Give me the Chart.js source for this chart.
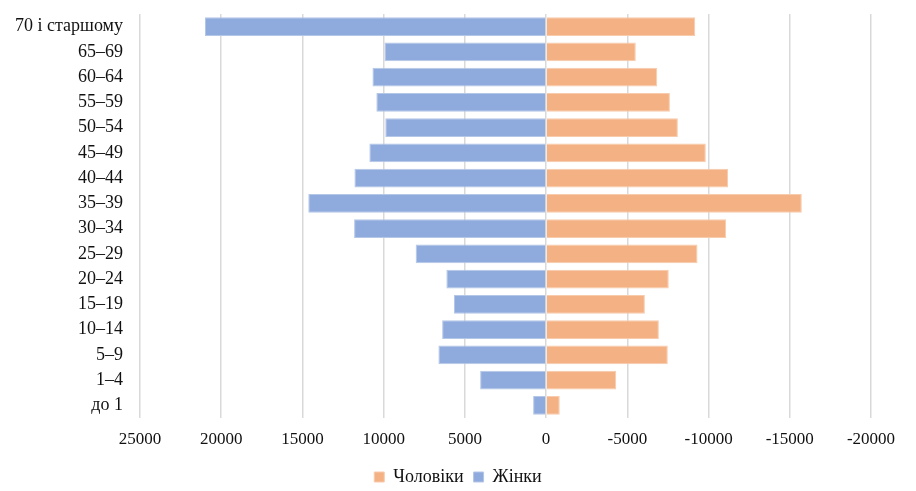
<!DOCTYPE html>
<html>
<head>
<meta charset="utf-8">
<script src="https://cdn.jsdelivr.net/npm/chart.js@4"></script>
<style>
  html, body { margin: 0; padding: 0; background: #fff; }
  #wrap { width: 916px; height: 491px; }
</style>
</head>
<body>
<div id="wrap"><canvas id="chart" width="916" height="491"></canvas></div>
<script>
// Вікові групи, зверху вниз
const AGE_GROUPS = ["70 і старшому", "65–69", "60–64", "55–59", "50–54", "45–49", "40–44",
  "35–39", "30–34", "25–29", "20–24", "15–19", "10–14", "5–9", "1–4", "до 1"];

// Чоловіки (від'ємні, праворуч)
const MEN = [-9180, -5520, -6840, -7620, -8110, -9830, -11200,
  -15740, -11080, -9320, -7550, -6080, -6940, -7490, -4310, -840];

// Жінки (додатні, ліворуч)
const WOMEN = [21000, 9950, 10690, 10450, 9900, 10880, 11800,
  14640, 11820, 8030, 6140, 5670, 6400, 6630, 4060, 800];

const X_MIN = -20000, X_MAX = 25000, X_STEP = 5000;

const FONT = "'Liberation Serif', 'Times New Roman', serif";

new Chart(document.getElementById("chart"), {
  type: "bar",
  data: {
    labels: AGE_GROUPS,
    datasets: [
      { label: "Чоловіки", data: MEN, backgroundColor: "#F4B183", borderColor: "#F8CBAD", borderWidth: 1 },
      { label: "Жінки", data: WOMEN, backgroundColor: "#8FAADC", borderColor: "#B4C7E7", borderWidth: 1 }
    ]
  },
  options: {
    indexAxis: "y",
    responsive: false,
    animation: false,
    layout: { padding: { left: 0, right: 0, top: 14, bottom: -5 } },
    datasets: { bar: { categoryPercentage: 1, barPercentage: 0.75 } },
    scales: {
      x: {
        reverse: true,
        min: X_MIN,
        max: X_MAX,
        ticks: {
          stepSize: X_STEP,
          color: "#111",
          font: { family: FONT, size: 17 },
          maxRotation: 0,
          padding: 11,
          callback: v => String(v)
        },
        grid: { color: "#d9d9d9", lineWidth: 1.5, drawTicks: false },
        border: { display: false },
        afterFit(scale) { scale.height = 40; scale.paddingLeft = 0; scale.paddingRight = 45; }
      },
      y: {
        stacked: true,
        ticks: { color: "#111", font: { family: FONT, size: 18 }, padding: 17, autoSkip: false },
        grid: { display: false, drawTicks: false },
        border: { display: false },
        afterFit(scale) { scale.width = 140; scale.paddingTop = 0; scale.paddingBottom = 0; }
      }
    },
    plugins: {
      legend: {
        position: "bottom",
        labels: {
          color: "#111",
          font: { family: FONT, size: 18 },
          boxWidth: 10,
          boxHeight: 10,
          padding: 10
        }
      },
      tooltip: { enabled: false }
    }
  }
});
</script>
</body>
</html>
